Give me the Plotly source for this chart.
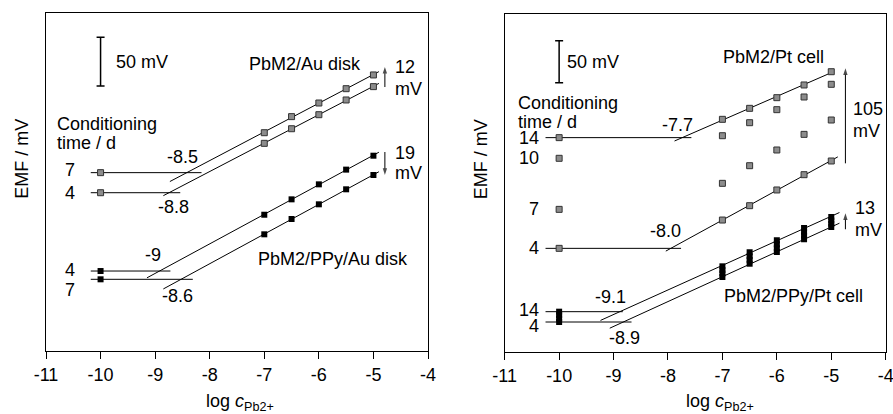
import numpy as np
import plotly.graph_objects as go

FONT = "Liberation Sans, Arial, sans-serif"

# ---------------- data ----------------
log_c = [-10, -7, -6.5, -6, -5.5, -5]
tick_vals = [-11, -10, -9, -8, -7, -6, -5, -4]
tick_text = ["-11", "-10", "-9", "-8", "-7", "-6", "-5", "-4"]

# Left panel (EMF in mV, arbitrary offset)
au_7d = [183.1, 224.1, 240.6, 254.6, 269.3, 283.4]
au_4d = [162.5, 213.2, 228.2, 242.6, 257.7, 271.4]
ppy_au_4d = [82.1, 139.9, 155.7, 171.1, 186.2, 200.5]
ppy_au_7d = [73.6, 119.8, 135.5, 150.6, 166.0, 180.7]

# Right panel
pt_14d = [255.2, 277.0, 290.1, 302.8, 317.9, 333.7]
pt_10d = [230.6, 257.5, 273.0, 288.5, 303.6, 318.7]
pt_7d = [169.8, 200.8, 221.8, 240.5, 259.1, 276.2]
pt_4d = [123.4, 157.1, 174.2, 192.9, 211.1, 227.4]
ppy_pt_14d = [48.0, 102.0, 118.7, 133.0, 147.6, 160.7]
ppy_pt_10d = [43.9, 97.5, 114.1, 128.4, 143.2, 156.6]
ppy_pt_7d = [39.8, 93.6, 109.7, 123.6, 138.6, 152.7]
ppy_pt_4d = [35.7, 89.3, 105.1, 119.0, 134.2, 148.8]

# detection-limit construction: (series, horizontal x-range, sloped x-range)
left_lines = [
    (au_7d, [-10.18, -8.15], [-8.73, -4.9]),
    (au_4d, [-10.18, -8.54], [-8.85, -4.9]),
    (ppy_au_4d, [-10.18, -8.72], [-9.15, -4.9]),
    (ppy_au_7d, [-10.18, -8.31], [-8.85, -4.9]),
]
right_lines = [
    (pt_14d, [-10.25, -7.57], [-7.88, -4.95]),
    (pt_4d, [-10.25, -7.76], [-8.04, -4.88]),
    (ppy_pt_14d, [-10.25, -8.83], [-9.24, -4.85]),
    (ppy_pt_4d, [-10.25, -8.67], [-9.07, -4.85]),
]

# shift arrows: (x, tail, head)
left_arrows = [(-4.79, 271.0, 291.6), (-4.79, 204.3, 180.7)]
right_arrows = [(-4.74, 224.6, 337.7), (-4.74, 146.1, 165.1)]

GRAY = dict(symbol="square", size=6, color="#8c8c8c", line=dict(color="#333333", width=1))
BLACK = dict(symbol="square", size=6, color="black", line=dict(color="black", width=0))

fig = go.Figure()


def add_lines(lines, xa, ya):
    for ys, hx, sx in lines:
        xs = np.array(log_c)
        yv = np.array(ys)
        m = xs >= -7
        k, b = np.polyfit(xs[m], yv[m], 1)
        fig.add_trace(go.Scatter(x=hx, y=[ys[0], ys[0]], mode="lines",
                                 line=dict(color="black", width=1),
                                 xaxis=xa, yaxis=ya, showlegend=False, hoverinfo="skip"))
        sx = np.array(sx)
        fig.add_trace(go.Scatter(x=sx, y=k * sx + b, mode="lines",
                                 line=dict(color="black", width=1),
                                 xaxis=xa, yaxis=ya, showlegend=False, hoverinfo="skip"))


def add_points(ys, mk, xa, ya):
    fig.add_trace(go.Scatter(x=log_c, y=ys, mode="markers", marker=mk,
                             xaxis=xa, yaxis=ya, showlegend=False))


def add_arrows(arrows, xa, ya):
    for x, tail, head in arrows:
        fig.add_trace(go.Scatter(x=[x, x], y=[tail, head], mode="lines+markers",
                                 line=dict(color="black", width=1),
                                 marker=dict(symbol="arrow", size=[0, 7], angleref="previous",
                                             color="black", line=dict(width=0)),
                                 xaxis=xa, yaxis=ya, showlegend=False, hoverinfo="skip"))


add_lines(left_lines, "x", "y")
add_lines(right_lines, "x2", "y2")
for s in (au_7d, au_4d):
    add_points(s, GRAY, "x", "y")
for s in (ppy_au_4d, ppy_au_7d):
    add_points(s, BLACK, "x", "y")
for s in (pt_14d, pt_10d, pt_7d, pt_4d):
    add_points(s, GRAY, "x2", "y2")
for s in (ppy_pt_14d, ppy_pt_10d, ppy_pt_7d, ppy_pt_4d):
    add_points(s, BLACK, "x2", "y2")
add_arrows(left_arrows, "x", "y")
add_arrows(right_arrows, "x2", "y2")

# 50 mV scale bars
for xa, ya, yc in (("x", "y", 297.1), ("x2", "y2", 345.6)):
    fig.add_trace(go.Scatter(x=[-10], y=[yc], mode="markers",
                             marker=dict(size=1, color="rgba(0,0,0,0)"),
                             error_y=dict(type="data", array=[25], visible=True,
                                          color="black", thickness=1.5, width=4),
                             xaxis=xa, yaxis=ya, showlegend=False, hoverinfo="skip"))

ann = []


def txt(x, y, s, xr, yr, xanchor="center"):
    ann.append(dict(x=x, y=y, text=s, xref=xr, yref=yr, showarrow=False,
                    xanchor=xanchor, yanchor="middle",
                    font=dict(family=FONT, size=18, color="black")))


# left panel texts
txt(-8.49, 199.5, "-8.5", "x", "y")
txt(-8.67, 147.8, "-8.8", "x", "y")
txt(-9.04, 98.6, "-9", "x", "y")
txt(-8.59, 56.5, "-8.6", "x", "y")
for yv, s in ((185.8, "7"), (162.5, "4"), (83.2, "4"), (62.6, "7")):
    txt(-10.43, yv, s, "x", "y", "right")
txt(-10.835, 233.1, "Conditioning", "x", "y", "left")
txt(-10.835, 213.9, "time / d", "x", "y", "left")
txt(-9.75, 297.0, "50 mV", "x", "y", "left")
txt(-6.25, 294.7, "PbM2/Au disk", "x", "y")
txt(-5.74, 94.5, "PbM2/PPy/Au disk", "x", "y")
txt(-4.64, 291.9, "12", "x", "y", "left")
txt(-4.64, 269.0, "mV", "x", "y", "left")
txt(-4.64, 203.6, "19", "x", "y", "left")
txt(-4.64, 182.4, "mV", "x", "y", "left")

# right panel texts
txt(-7.82, 270.2, "-7.7", "x2", "y2")
txt(-8.04, 144.0, "-8.0", "x2", "y2")
txt(-9.05, 65.8, "-9.1", "x2", "y2")
txt(-8.80, 17.0, "-8.9", "x2", "y2")
for yv, s in ((255.1, "14"), (230.6, "10"), (169.9, "7"), (123.5, "4"), (50.0, "14"), (31.0, "4")):
    txt(-10.33, yv, s, "x2", "y2", "right")
txt(-10.8, 296.1, "Conditioning", "x2", "y2", "left")
txt(-10.8, 274.2, "time / d", "x2", "y2", "left")
txt(-9.9, 345.6, "50 mV", "x2", "y2", "left")
txt(-6.07, 351.5, "PbM2/Pt cell", "x2", "y2")
txt(-5.70, 66.7, "PbM2/PPy/Pt cell", "x2", "y2")
txt(-4.63, 288.9, "105", "x2", "y2", "left")
txt(-4.63, 263.1, "mV", "x2", "y2", "left")
txt(-4.60, 171.1, "13", "x2", "y2", "left")
txt(-4.60, 145.2, "mV", "x2", "y2", "left")

# axis titles
xtitle = "log <i>c</i><sub>Pb2+</sub>"
for xc in (240 / 893, 720 / 893):
    ann.append(dict(x=xc, y=12 / 414, xref="paper", yref="paper", text=xtitle,
                    showarrow=False, xanchor="center", yanchor="middle",
                    font=dict(family=FONT, size=18, color="black")))
for xc in (21.7 / 893, 481.3 / 893):
    ann.append(dict(x=xc, y=(414 - 159) / 414, xref="paper", yref="paper", text="EMF / mV",
                    textangle=-90, showarrow=False, xanchor="center", yanchor="middle",
                    font=dict(family=FONT, size=18, color="black")))

xaxis_common = dict(range=[-11, -4], tickvals=tick_vals, ticktext=tick_text,
                    ticks="outside", ticklen=7, tickwidth=1, tickcolor="black",
                    showline=True, linecolor="black", linewidth=1, mirror=True,
                    showgrid=False, zeroline=False, automargin=False,
                    ticklabeloverflow="allow",
                    tickfont=dict(family=FONT, size=18, color="black"))
yaxis_common = dict(showline=True, linecolor="black", linewidth=1, mirror=True,
                    showgrid=False, zeroline=False, showticklabels=False, ticks="",
                    automargin=False)

fig.update_layout(
    width=893, height=414,
    margin=dict(l=0, r=0, t=0, b=0, pad=0, autoexpand=False),
    paper_bgcolor="white", plot_bgcolor="white",
    showlegend=False,
    xaxis=dict(domain=[46 / 893, 428 / 893], anchor="y", **xaxis_common),
    yaxis=dict(domain=[(414 - 351) / 414, (414 - 13) / 414], anchor="x",
               range=[0, 347], **yaxis_common),
    xaxis2=dict(domain=[504.7 / 893, 885.7 / 893], anchor="y2", **xaxis_common),
    yaxis2=dict(domain=[(414 - 352) / 414, (414 - 14) / 414], anchor="x2",
                range=[0, 402.4], **yaxis_common),
    annotations=ann,
    font=dict(family=FONT, size=18, color="black"),
)

fig.write_html("out.html",
               config={"displayModeBar": False},
               post_script="document.body.style.margin='0';document.body.style.overflow='hidden';")
